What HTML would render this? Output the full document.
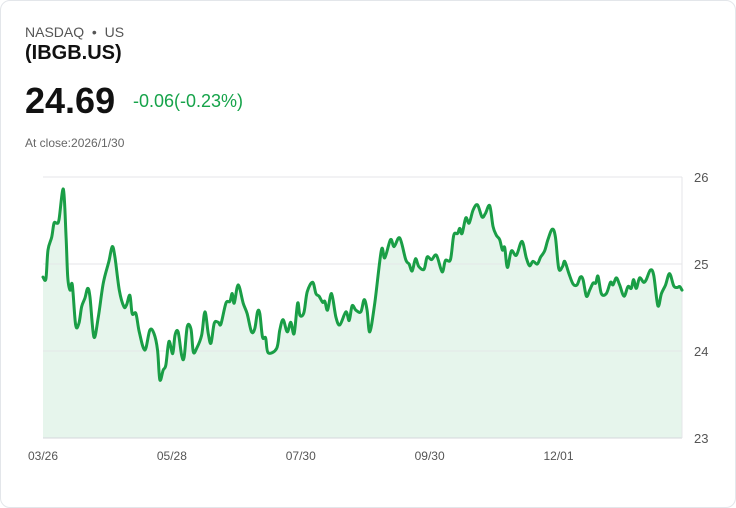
<!DOCTYPE html>
<html><head><meta charset="utf-8"><style>
html,body{margin:0;padding:0;background:#fff;}
body{width:736px;height:508px;position:relative;font-family:"Liberation Sans",Arial,sans-serif;overflow:hidden;}
.card{position:absolute;left:0;top:0;width:734px;height:506px;border:1px solid #e3e6ea;border-radius:10px;}
.t{position:absolute;white-space:nowrap;}
</style></head><body>
<div class="card"></div>
<div class="t" style="left:25px;top:24px;font-size:14px;color:#555;">NASDAQ &nbsp;•&nbsp; US</div>
<div class="t" style="left:25px;top:42px;font-size:20px;font-weight:bold;color:#111;">(IBGB.US)</div>
<div class="t" style="left:25px;top:80px;font-size:36px;font-weight:bold;color:#111;">24.69</div>
<div class="t" style="left:133px;top:91px;font-size:18px;color:#16a34a;">-0.06(-0.23%)</div>
<div class="t" style="left:25px;top:136px;font-size:12px;color:#666;">At close:2026/1/30</div>
<svg id="chart" width="736" height="508" style="position:absolute;left:0;top:0;"></svg>
<script>
const days=[0,1.4,2.4,4.2,5.3,6.6,7.7,9.8,11.1,11.9,13,14.1,15.7,17.3,18.6,20.2,21.5,22.6,24.5,26.6,29,31.7,33.3,34.6,36.7,38.9,40.2,41.8,42.9,44.7,46.3,49,51.4,53.4,55.1,56.2,57.8,59.1,60.6,62.4,63.5,65,66.7,67.9,69.4,71.2,72.3,73.9,76.3,77.9,79.5,80.8,82.4,84.3,85.6,88,89.9,91,92,93.9,96.3,98.2,100.3,101.9,103.2,104.3,105.6,107.1,108.3,112.4,113.9,115.5,117.5,119.2,120.8,122.5,123.6,125.5,127.1,129.7,131.3,132.8,134.5,135.6,136.9,138.8,140.9,142.8,145.7,147.3,148.7,150.5,152.9,154.5,155.9,157.2,159.6,162.8,164.4,167.2,168.9,171.6,174.5,176.1,177.6,179.2,180.8,183.3,184.8,186.9,189.3,192,193.6,196,197.6,199.4,200.5,201.6,203.4,205,206.9,209,211.2,212.8,214.9,216.5,218.1,219.7,221,222.1,223.4,225.3,227.7,230.4,232.5,234.1,235.7,237.8,239.4,241.3,242.9,245,246.5,248.1,249.9,251,253,255,256.9,258.5,259.8,261.4,263,264.6,265.9,267,268.6,271,273,274.2,275.8,277.4,279.5,281.4,283,284.1,285.4,287,288.9,290.2,292.2,293.8,295.8,297.5,299.5,301.4,303.4,305,306.3,307.4];
const prices=[24.85,24.83,25.16,25.31,25.47,25.47,25.51,25.86,25.31,24.85,24.70,24.76,24.30,24.32,24.51,24.61,24.72,24.62,24.16,24.39,24.78,25.03,25.20,25.08,24.70,24.51,24.53,24.64,24.43,24.43,24.22,24.01,24.24,24.20,24.01,23.67,23.78,23.84,24.11,23.97,24.18,24.22,23.95,23.93,24.28,24.25,23.99,24.03,24.18,24.45,24.20,24.09,24.32,24.33,24.31,24.55,24.57,24.66,24.55,24.76,24.55,24.43,24.22,24.26,24.45,24.43,24.16,24.15,23.98,24.03,24.24,24.36,24.22,24.33,24.20,24.55,24.41,24.44,24.68,24.79,24.66,24.63,24.56,24.57,24.47,24.66,24.39,24.30,24.45,24.35,24.52,24.47,24.45,24.59,24.47,24.22,24.55,25.16,25.07,25.28,25.20,25.30,25.05,25.00,24.92,25.06,24.97,24.94,25.08,25.05,25.10,24.91,25.04,25.05,25.33,25.35,25.41,25.35,25.53,25.47,25.62,25.68,25.54,25.58,25.67,25.43,25.33,25.28,25.16,25.19,24.96,25.15,25.10,25.26,25.07,24.98,25.03,25.00,25.08,25.15,25.28,25.40,25.31,24.95,24.97,25.03,24.89,24.77,24.76,24.85,24.82,24.63,24.70,24.78,24.78,24.86,24.66,24.66,24.79,24.76,24.84,24.76,24.63,24.74,24.72,24.82,24.72,24.84,24.79,24.82,24.93,24.87,24.52,24.66,24.76,24.89,24.75,24.73,24.74,24.70];
const yTicks=[23,24,25,26];
const xTickDays=[0,62,124,186,248];
const xTickLabels=["03/26","05/28","07/30","09/30","12/01"];

const svg=document.getElementById('chart');
const NS='http://www.w3.org/2000/svg';
const X0=43,X1=682,Y0=438,Y1=177,YMIN=23,YMAX=26,DAYSPAN=307.4;
const xs=d=>X0+(d/DAYSPAN)*(X1-X0);
const ys=v=>Y0-(v-YMIN)/(YMAX-YMIN)*(Y0-Y1);
function mk(tag,attrs){const e=document.createElementNS(NS,tag);for(const k in attrs)e.setAttribute(k,attrs[k]);svg.appendChild(e);return e;}

yTicks.forEach(t=>{
  const y=ys(t);
  const g=mk('line',{x1:X0,x2:X1,y1:y,y2:y,stroke:t===YMIN?'#d4d7db':'#e4e6e9','stroke-width':1});
  
  
  const l=mk('text',{x:694,y:y+5,'font-size':13,fill:'#555','font-family':'Liberation Sans, Arial, sans-serif'});
  l.textContent=t;
  
  
});
const ax=mk('line',{x1:X1,x2:X1,y1:Y1,y2:Y0,stroke:'#e4e6e9','stroke-width':1});



xTickDays.forEach((d,i)=>{
  const l=mk('text',{x:xs(d),y:460,'font-size':12,fill:'#555','text-anchor':'middle','font-family':'Liberation Sans, Arial, sans-serif'});
  l.textContent=xTickLabels[i];
  
  
});

const pts=days.map((d,i)=>[xs(d),ys(prices[i])]);
let dstr='M'+pts[0][0]+','+pts[0][1];
for(let i=0;i<pts.length-1;i++){
  const p0=pts[Math.max(0,i-1)],p1=pts[i],p2=pts[i+1],p3=pts[Math.min(pts.length-1,i+2)];
  const t=0.5/3;
  dstr+=' C'+(p1[0]+(p2[0]-p0[0])*t)+','+(p1[1]+(p2[1]-p0[1])*t)+' '+(p2[0]-(p3[0]-p1[0])*t)+','+(p2[1]-(p3[1]-p1[1])*t)+' '+p2[0]+','+p2[1];
}
const area=mk('path',{d:dstr+' L'+pts[pts.length-1][0]+','+Y0+' L'+pts[0][0]+','+Y0+' Z',fill:'#e6f5ec',stroke:'none'});


svg.insertBefore(area,svg.firstChild);
const line=mk('path',{d:dstr,fill:'none',stroke:'#1a9e46','stroke-width':3,'stroke-linejoin':'round','stroke-linecap':'round'});


</script>
</body></html>
